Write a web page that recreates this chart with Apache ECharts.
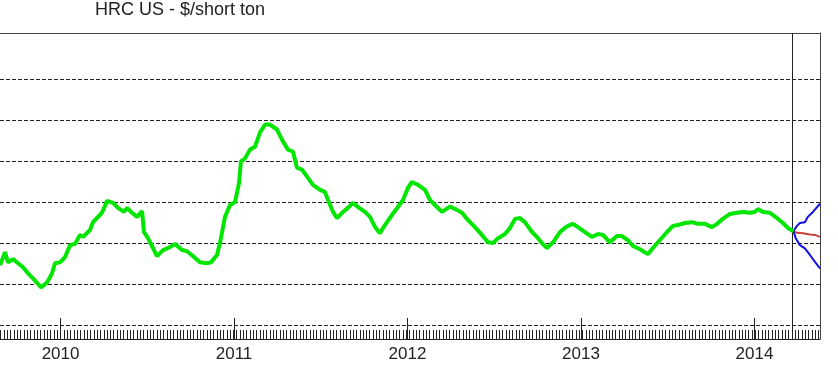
<!DOCTYPE html>
<html><head><meta charset="utf-8">
<script src="https://cdn.jsdelivr.net/npm/echarts@6/dist/echarts.min.js"></script>
<style>html,body{margin:0;padding:0;background:#fff}#c{width:838px;height:368px}</style>
</head><body><div id="c"></div>
<script>
const titleText = 'HRC US - $/short ton';
const yearTicks = [2010, 2011, 2012, 2013, 2014];
const gridValues = [400, 500, 600, 700, 800, 900, 1000];
const forecastStart = 2014.225;
const xMin = 2009.651, xMax = 2014.378;
const yMin = 367.07, yMax = 1113.41;

const histDates = [2009.651,2009.680,2009.697,2009.726,2009.755,2009.784,2009.813,2009.841,2009.888,2009.922,2009.951,2009.968,2009.997,2010.026,2010.055,2010.084,2010.112,2010.130,2010.170,2010.187,2010.239,2010.268,2010.303,2010.331,2010.366,2010.383,2010.412,2010.441,2010.470,2010.481,2010.504,2010.533,2010.556,2010.591,2010.631,2010.660,2010.700,2010.729,2010.764,2010.804,2010.844,2010.867,2010.902,2010.919,2010.948,2010.977,2011.006,2011.029,2011.040,2011.063,2011.092,2011.121,2011.150,2011.179,2011.207,2011.248,2011.282,2011.311,2011.340,2011.363,2011.392,2011.421,2011.455,2011.496,2011.524,2011.542,2011.571,2011.594,2011.628,2011.657,2011.686,2011.715,2011.755,2011.784,2011.813,2011.841,2011.870,2011.911,2011.945,2011.974,2012.003,2012.026,2012.061,2012.101,2012.130,2012.170,2012.199,2012.216,2012.245,2012.285,2012.314,2012.349,2012.389,2012.429,2012.464,2012.493,2012.522,2012.562,2012.591,2012.620,2012.648,2012.677,2012.718,2012.746,2012.775,2012.804,2012.839,2012.879,2012.908,2012.925,2012.954,2012.983,2013.023,2013.063,2013.098,2013.127,2013.167,2013.207,2013.236,2013.271,2013.300,2013.340,2013.386,2013.415,2013.444,2013.496,2013.530,2013.559,2013.599,2013.640,2013.674,2013.715,2013.755,2013.784,2013.818,2013.859,2013.899,2013.934,2013.974,2014.003,2014.020,2014.049,2014.089,2014.130,2014.164,2014.193,2014.225];
const histValues = [547,579,554,562,552,542,527,515,493,505,527,552,554,567,596,599,621,616,633,652,675,704,699,687,677,687,675,665,679,628,613,589,569,584,591,599,584,581,569,554,552,554,572,601,665,694,701,748,800,807,829,836,871,890,890,878,849,829,824,785,780,763,743,731,726,706,677,662,677,687,699,689,677,665,640,625,645,670,689,706,736,750,743,731,706,689,677,682,690,682,675,657,640,621,603,601,613,623,638,660,662,652,628,616,601,589,603,628,638,643,648,640,628,616,623,621,603,618,618,608,594,586,574,589,603,628,643,645,650,652,648,648,640,648,660,672,675,677,675,677,684,677,675,662,650,638,630];

const upperDates = [2014.225, 2014.245, 2014.262, 2014.291, 2014.308, 2014.337, 2014.378];
const upperValues = [630, 643, 650, 652, 665, 677, 697];
const midDates = [2014.225, 2014.245, 2014.280, 2014.320, 2014.349, 2014.378];
const midValues = [630, 626, 625, 622, 621, 616];
const lowerDates = [2014.225, 2014.239, 2014.262, 2014.291, 2014.320, 2014.349, 2014.378];
const lowerValues = [630, 612, 596, 588, 572, 555, 539];

const weekTicks = [];
for (let k = -20; k <= 240; k++) {
  const t = 2010 + k * 7 / 365.25;
  if (t >= xMin && t <= xMax) weekTicks.push(t);
}
const zip = (a, b) => a.map((x, i) => [x, b[i]]);
const font = 'Liberation Sans, Arial, sans-serif';
const ink = '#222';

const chart = echarts.init(document.getElementById('c'), null, {renderer: 'canvas'});
chart.setOption({
  animation: false,
  backgroundColor: '#fff',
  title: {text: titleText, left: 95, top: 1, padding: 0,
    textStyle: {fontSize: 18, fontWeight: 'normal', color: ink, fontFamily: font}},
  grid: {left: 0, right: 18, top: 33, bottom: 29, containLabel: false},
  xAxis: [
    {type: 'value', position: 'bottom', min: xMin, max: xMax,
     axisLine: {show: true, lineStyle: {color: ink, width: 1}},
     axisTick: {show: true, inside: true, length: 21, customValues: yearTicks, lineStyle: {color: ink}},
     axisLabel: {show: true, customValues: yearTicks, formatter: v => String(Math.round(v)),
       fontSize: 17, color: ink, margin: 7, fontFamily: font},
     splitLine: {show: false}},
    {type: 'value', position: 'bottom', min: xMin, max: xMax,
     axisLine: {show: false},
     axisTick: {show: true, inside: true, length: 9, customValues: weekTicks, lineStyle: {color: ink}},
     axisLabel: {show: false}, splitLine: {show: false}},
    {type: 'value', position: 'top', min: xMin, max: xMax,
     axisLine: {show: true, lineStyle: {color: '#444'}},
     axisTick: {show: false}, axisLabel: {show: false}, splitLine: {show: false}}
  ],
  yAxis: [
    {type: 'value', position: 'left', min: yMin, max: yMax,
     axisLine: {show: false}, axisTick: {show: false}, axisLabel: {show: false}, splitLine: {show: false}},
    {type: 'value', position: 'right', min: yMin, max: yMax,
     axisLine: {show: true, lineStyle: {color: '#444'}},
     axisTick: {show: false}, axisLabel: {show: false}, splitLine: {show: false}}
  ],
  series: [
    {type: 'line', name: 'HRC US', data: zip(histDates, histValues), showSymbol: false, z: 3,
     lineStyle: {color: '#00e600', width: 4}, itemStyle: {color: '#00e600'},
     markLine: {silent: true, symbol: 'none', z: 1, label: {show: false},
       lineStyle: {type: [4, 2], color: '#222', width: 1},
       emphasis: {disabled: true},
       data: gridValues.map(v => ({yAxis: v})).concat([{xAxis: forecastStart, lineStyle: {type: 'solid', color: '#222', width: 1}}])}},
    {type: 'line', name: 'Upper', data: zip(upperDates, upperValues), showSymbol: false, z: 2,
     lineStyle: {color: '#1010e0', width: 2}},
    {type: 'line', name: 'Mid', data: zip(midDates, midValues), showSymbol: false, z: 2,
     lineStyle: {color: '#c8403a', width: 2}},
    {type: 'line', name: 'Lower', data: zip(lowerDates, lowerValues), showSymbol: false, z: 2,
     lineStyle: {color: '#1010e0', width: 2}}
  ]
});
</script>
</body></html>
